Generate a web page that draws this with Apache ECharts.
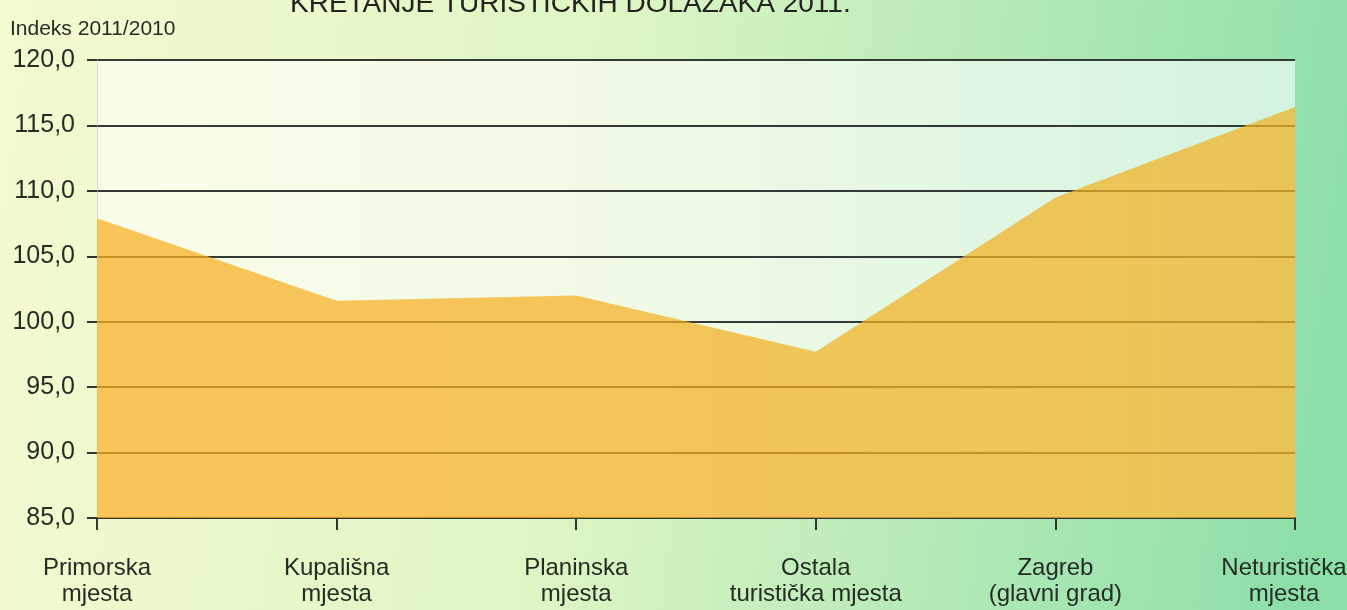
<!DOCTYPE html>
<html>
<head>
    <meta charset="utf-8">
    <script src="https://cdn.jsdelivr.net/npm/echarts@6/dist/echarts.min.js"></script>
    <style>
        html, body { margin: 0; padding: 0; }
        #main { width: 1347px; height: 610px; }
    </style>
</head>
<body>
<div id="main"></div>
<script>
    var categories = [
        'Primorska\nmjesta',
        'Kupališna\nmjesta',
        'Planinska\nmjesta',
        'Ostala\nturistička mjesta',
        'Zagreb\n(glavni grad)',
        'Neturistička\nmjesta'
    ];
    var indexValues = [107.9, 101.6, 102.0, 97.7, 109.5, 116.4];

    var font = '"Liberation Sans", Arial, sans-serif';
    var textColor = '#252b25';

    // last label sits at the right edge, nudge it left a little
    var axisData = categories.map(function (name, i) {
        if (i === categories.length - 1) {
            return {value: name, textStyle: {padding: [0, 22, 0, 0]}};
        }
        return name;
    });

    var chart = echarts.init(document.getElementById('main'));

    var option = {
        backgroundColor: new echarts.graphic.LinearGradient(0, 0, 1, 0.3, [
            {offset: 0, color: '#f3fbd0'},
            {offset: 0.45, color: '#dff6c4'},
            {offset: 1, color: '#8ddfaa'}
        ]),
        title: {
            text: 'KRETANJE TURISTIČKIH DOLAZAKA 2011.',
            left: 285,
            top: -15,
            textStyle: {
                fontFamily: font,
                fontSize: 28,
                fontWeight: 'normal',
                color: '#222'
            }
        },
        grid: {
            left: 97,
            right: 52,
            top: 60,
            bottom: 92,
            outerBoundsMode: 'none',
            show: true,
            borderWidth: 0,
            backgroundColor: new echarts.graphic.LinearGradient(0, 0, 1, 0, [
                {offset: 0, color: '#fafdea'},
                {offset: 0.5, color: '#eefae6'},
                {offset: 1, color: '#d3f3df'}
            ])
        },
        xAxis: {
            type: 'category',
            data: axisData,
            boundaryGap: false,
            axisLine: {
                lineStyle: {color: '#333', width: 2}
            },
            axisTick: {
                alignWithLabel: true,
                length: 12,
                lineStyle: {color: '#333', width: 2}
            },
            axisLabel: {
                margin: 37,
                interval: 0,
                fontFamily: font,
                fontSize: 24,
                lineHeight: 26,
                color: textColor
            },
            splitLine: {show: false}
        },
        yAxis: {
            type: 'value',
            min: 85,
            max: 120,
            interval: 5,
            name: 'Indeks 2011/2010',
            nameLocation: 'end',
            nameGap: 20,
            nameTextStyle: {
                align: 'left',
                padding: [0, 0, 0, -87],
                fontFamily: font,
                fontSize: 21,
                color: textColor
            },
            axisLine: {
                show: true,
                lineStyle: {color: 'rgba(200,205,180,0.6)', width: 1}
            },
            axisTick: {
                show: true,
                length: 10,
                lineStyle: {color: '#333', width: 2}
            },
            axisLabel: {
                margin: 22,
                fontFamily: font,
                fontSize: 25,
                color: textColor,
                formatter: function (v) {
                    return v.toFixed(1).replace('.', ',');
                }
            },
            splitLine: {
                lineStyle: {color: '#333a35', width: 2}
            }
        },
        series: [{
            type: 'line',
            data: indexValues,
            symbol: 'none',
            lineStyle: {width: 0},
            areaStyle: {
                color: new echarts.graphic.LinearGradient(0, 0, 1, 0, [
                    {offset: 0, color: 'rgb(250,176,38)'},
                    {offset: 1, color: 'rgb(240,180,38)'}
                ]),
                opacity: 0.74
            },
            silent: true,
            animation: false
        }]
    };

    chart.setOption(option);
</script>
</body>
</html>
